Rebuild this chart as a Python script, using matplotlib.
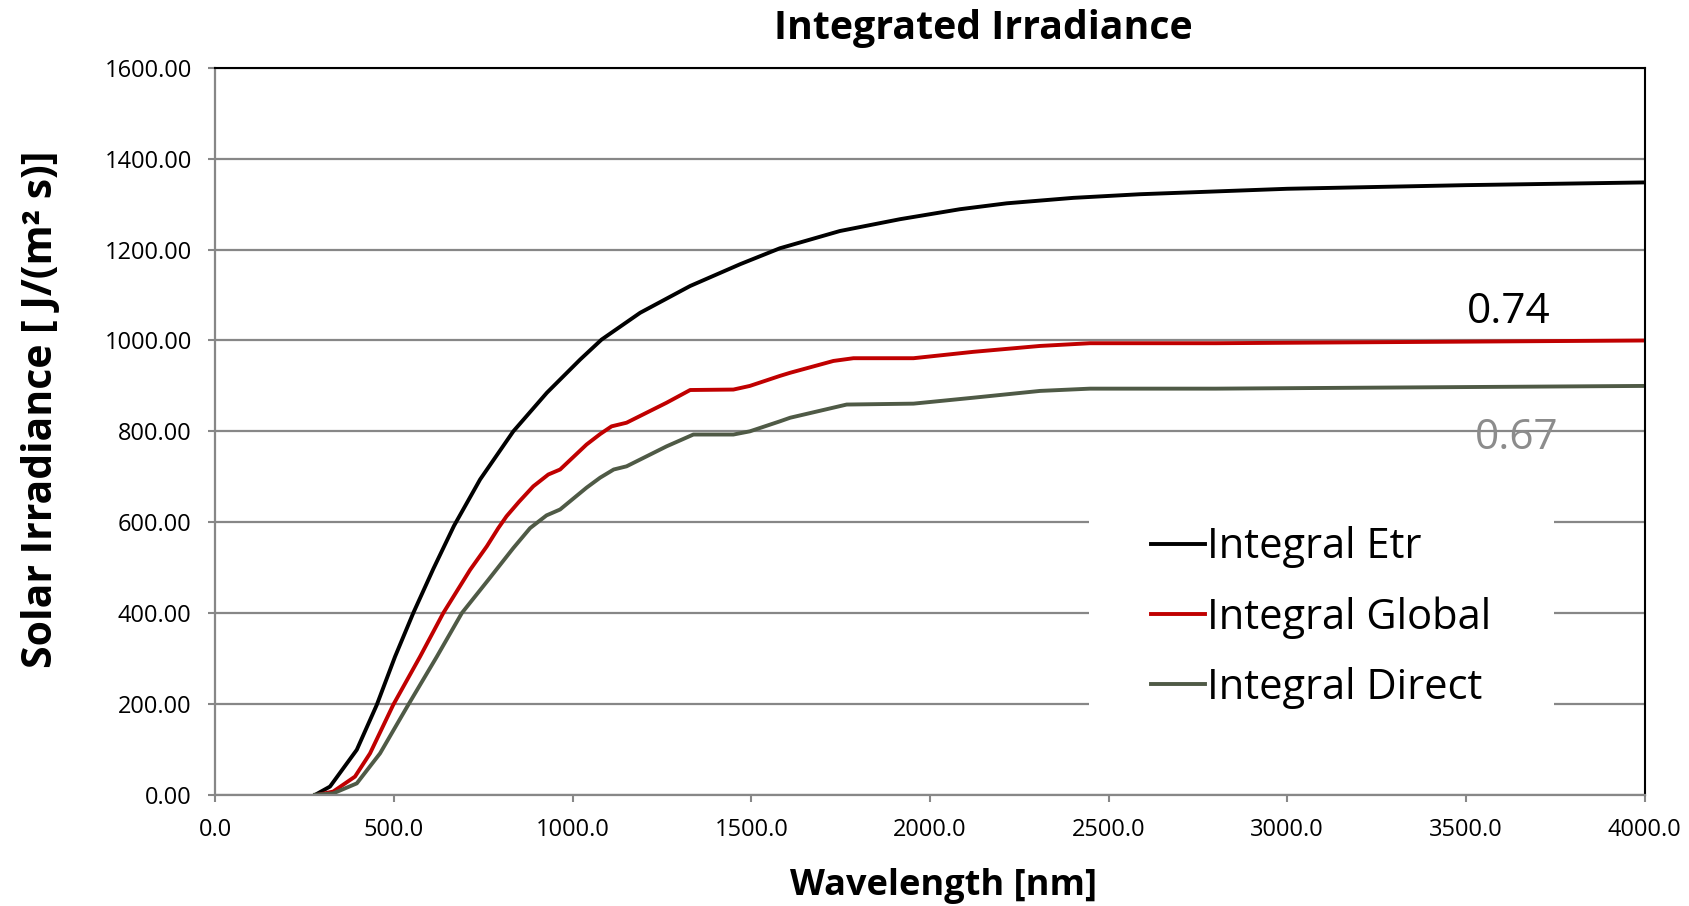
import matplotlib
matplotlib.use("Agg")
import matplotlib.pyplot as plt

# cumulative irradiance
etr_nm = [280, 321, 396, 452, 503, 554, 610, 668, 741, 834, 928, 1021, 1081, 1189,
          1329, 1469, 1580, 1748, 1916, 2084, 2215, 2401, 2588, 3000, 3500, 4000]
etr_val = [0, 18, 99, 198, 304, 400, 497, 592, 694, 800, 885, 958, 1002, 1061,
           1120, 1168, 1203, 1241, 1267, 1289, 1302, 1314, 1322, 1334, 1342, 1348]

glob_nm = [288, 330, 391, 433, 498, 573, 638, 713, 760, 792, 815, 850, 890, 932,
           965, 1039, 1077, 1109, 1151, 1263, 1329, 1450, 1496, 1580, 1609, 1730,
           1786, 1954, 2121, 2308, 2448, 2800, 4000]
glob_val = [0, 7, 40, 91, 198, 304, 400, 495, 547, 587, 613, 645, 679, 705,
            716, 771, 794, 811, 819, 863, 891, 892, 900, 922, 929, 955,
            961, 961, 975, 988, 994, 994, 1000]

dir_nm = [279, 330, 396, 461, 540, 620, 690, 764, 834, 881, 927, 965, 1039, 1077,
          1115, 1151, 1263, 1338, 1450, 1496, 1580, 1609, 1767, 1954, 2121, 2308,
          2448, 2800, 4000]
dir_val = [0, 3, 25, 91, 198, 304, 400, 473, 543, 587, 615, 628, 676, 698,
           716, 723, 767, 793, 793, 800, 822, 830, 859, 861, 874, 889,
           894, 894, 900]

ratio_global = "0.74"
ratio_direct = "0.67"

plt.rcParams["font.family"] = ["Open Sans", "DejaVu Sans"]

grid_grey = "#878787"

fig = plt.figure(figsize=(16.9, 9.06), dpi=100)
ax = fig.add_axes([0.1274, 0.1228, 0.8457, 0.8022])

ax.plot(etr_nm, etr_val, color="black", lw=2.8, label="Integral Etr")
ax.plot(glob_nm, glob_val, color="#C00000", lw=2.8, label="Integral Global")
ax.plot(dir_nm, dir_val, color="#4F5A46", lw=2.8, label="Integral Direct")

ax.set_xlim(0, 4000)
ax.set_ylim(0, 1600)
ax.set_xticks(range(0, 4001, 500))
ax.set_yticks(range(0, 1601, 200))
ax.set_xticklabels([f"{v:.1f}" for v in range(0, 4001, 500)])
ax.set_yticklabels([f"{v:.2f}" for v in range(0, 1601, 200)])
ax.tick_params(labelsize=17, length=5, width=1.5, color=grid_grey, pad=12)

ax.grid(axis="y", color=grid_grey, lw=1.6)
ax.set_axisbelow(True)
for s in ["left", "bottom"]:
    ax.spines[s].set_color(grid_grey)
    ax.spines[s].set_linewidth(1.6)
for s in ["top", "right"]:
    ax.spines[s].set_color("black")
    ax.spines[s].set_linewidth(1.5)

ax.text(3621, 1062, ratio_global, fontsize=30.5, color="black", ha="center", va="center")
ax.text(3642, 785, ratio_direct, fontsize=30.5, color="#8C8C8C", ha="center", va="center")

leg = ax.legend(loc="center left", bbox_to_anchor=(0.611, 0.244), fontsize=30,
                frameon=True, facecolor="white", edgecolor="none", framealpha=1,
                handlelength=1.3, handletextpad=0.05, labelspacing=0.67,
                borderpad=1.5, borderaxespad=0)
leg.get_frame().set_boxstyle("square", pad=0)

fig.text(0.582, 0.969, "Integrated Irradiance", fontsize=28.3, fontweight="bold",
         ha="center", va="center")
fig.text(0.5585, 0.022, "Wavelength [nm]", fontsize=26, fontweight="bold",
         ha="center", va="center")
fig.text(0.0245, 0.548, "Solar Irradiance [ J/(m\u00b2 s)]", fontsize=29.4,
         fontweight="bold", rotation=90, ha="center", va="center")

fig.savefig("out.png", dpi=100)
